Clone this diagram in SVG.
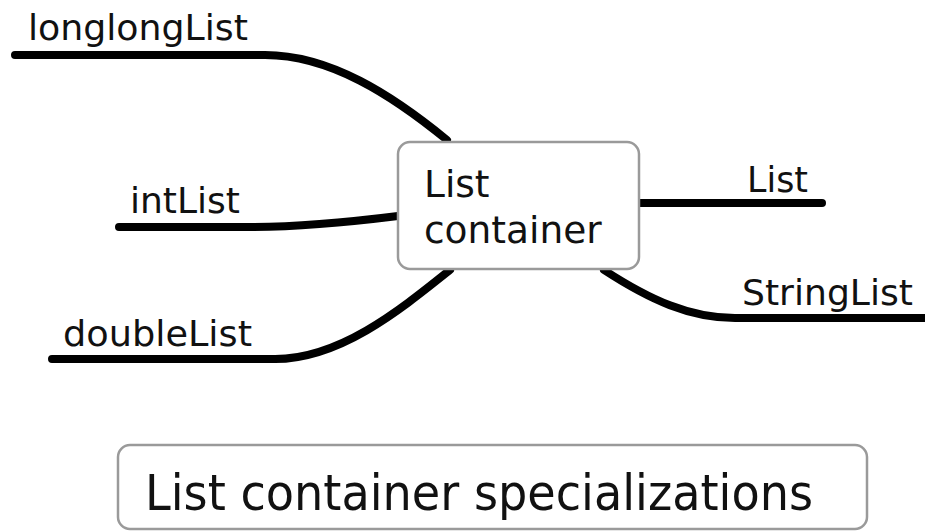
<svg xmlns="http://www.w3.org/2000/svg" width="925" height="531" viewBox="0 0 925 531">
<style>
.bg{fill:#ffffff}
.edge{fill:none;stroke:#000;stroke-width:8;stroke-linecap:round;stroke-linejoin:round}
.box{fill:#fff;stroke:#9a9a9a;stroke-width:2.5}
.lbl{font-family:"DejaVu Sans",sans-serif;font-size:36px;fill:#111}
.ctr{font-family:"DejaVu Sans",sans-serif;font-size:37.5px;fill:#111}
.ttl{font-family:"DejaVu Sans",sans-serif;font-size:50px;fill:#111}
</style>
<rect class="bg" x="0" y="0" width="925" height="531"/>
<g id="connectors">
<path class="edge" d="M15,55 L265,55 C330,55 392,95 447,140"/>
<path class="edge" d="M119,227 L250,227 C300,227 350,222 398,216"/>
<path class="edge" d="M52,359 L275,359 C340,359 400,310 450,270"/>
<path class="edge" d="M638,203 L822,203"/>
<path class="edge" d="M604,270 C650,300 690,318 735,318 L930,318"/>
</g>
<g id="center">
<rect class="box" x="398" y="142" width="241" height="127" rx="12"/>
<text class="ctr" x="424" y="197">List</text>
<text class="ctr" x="424" y="243">container</text>
</g>
<g id="longlongList"><text class="lbl" x="28" y="40" textLength="220" lengthAdjust="spacingAndGlyphs">longlongList</text></g>
<g id="intList"><text class="lbl" x="130" y="213" textLength="110" lengthAdjust="spacingAndGlyphs">intList</text></g>
<g id="doubleList"><text class="lbl" x="63" y="346" textLength="189" lengthAdjust="spacingAndGlyphs">doubleList</text></g>
<g id="List"><text class="lbl" x="747" y="192" textLength="61" lengthAdjust="spacingAndGlyphs">List</text></g>
<g id="StringList"><text class="lbl" x="742" y="305" textLength="171" lengthAdjust="spacingAndGlyphs">StringList</text></g>
<g id="title">
<rect class="box" x="118" y="445" width="749" height="84" rx="12"/>
<text class="ttl" x="145" y="510" textLength="668" lengthAdjust="spacingAndGlyphs">List container specializations</text>
</g>
</svg>
